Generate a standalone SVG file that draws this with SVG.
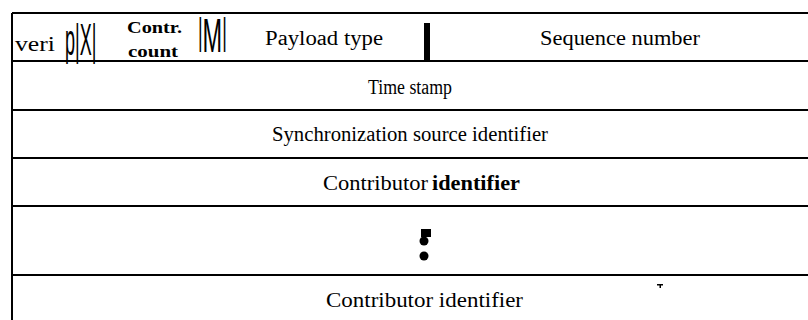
<svg xmlns="http://www.w3.org/2000/svg" width="808" height="320" viewBox="0 0 808 320">
<style>
.t{font-family:"Liberation Serif","Times New Roman",serif;font-size:20.5px;fill:#000}
.b{font-family:"Liberation Serif","Times New Roman",serif;font-weight:bold;fill:#000}
.n{font-family:"Liberation Sans",Arial,sans-serif;fill:#000}
.ln{stroke:#000;stroke-width:2;fill:none}
</style>
<rect width="808" height="320" fill="#fff"/>
<g id="connectors">
<line class="ln" x1="12" y1="13" x2="808" y2="13"/>
<line class="ln" x1="12" y1="13" x2="12" y2="320"/>
<line class="ln" x1="12" y1="61" x2="808" y2="61"/>
<line class="ln" x1="12" y1="110" x2="808" y2="110"/>
<line class="ln" x1="12" y1="158" x2="808" y2="158"/>
<line class="ln" x1="12" y1="206" x2="808" y2="206"/>
<line class="ln" x1="12" y1="275" x2="808" y2="275"/>
</g>
<g id="row1">
<text class="t" x="15" y="51" textLength="40" lengthAdjust="spacingAndGlyphs">veri</text>
<text class="n" font-size="45" transform="translate(65,55) scale(0.4,1)">p|X|</text>
<text class="b" font-size="17" x="127" y="33" textLength="55" lengthAdjust="spacingAndGlyphs">Contr.</text>
<text class="b" font-size="17" x="128" y="57" textLength="50" lengthAdjust="spacingAndGlyphs">count</text>
<text class="n" font-size="49" transform="translate(198,52) scale(0.48,1)"><tspan font-size="37" dy="-8">|</tspan><tspan dy="8">M</tspan><tspan font-size="37" dy="-8">|</tspan></text>
<text class="t" x="265" y="45" textLength="118" lengthAdjust="spacingAndGlyphs">Payload type</text>
<rect x="424" y="23" width="6" height="38" fill="#000"/>
<text class="t" x="540" y="45" textLength="160" lengthAdjust="spacingAndGlyphs">Sequence number</text>
</g>
<g id="timestamp">
<text class="t" x="368" y="94" font-size="23" textLength="84" lengthAdjust="spacingAndGlyphs">Time stamp</text>
</g>
<g id="ssrc">
<text class="t" x="272" y="141" textLength="276" lengthAdjust="spacingAndGlyphs">Synchronization source identifier</text>
</g>
<g id="csrc1">
<text class="t" x="323" y="190"><tspan textLength="105" lengthAdjust="spacingAndGlyphs">Contributor</tspan> <tspan class="b" x="432" textLength="88" lengthAdjust="spacingAndGlyphs">identifier</tspan></text>
</g>
<g id="dots">
<rect x="421" y="229" width="10" height="8" fill="#000"/>
<circle cx="424" cy="241" r="4.5" fill="#000"/>
<circle cx="424" cy="256" r="4.5" fill="#000"/>
</g>
<g id="csrc2">
<text class="t" x="326" y="307" textLength="197" lengthAdjust="spacingAndGlyphs">Contributor identifier</text>
<path d="M657 284h6v1.5h-2v2.5h-1.5v-2.5h-2.5z" fill="#000"/>
</g>
</svg>
